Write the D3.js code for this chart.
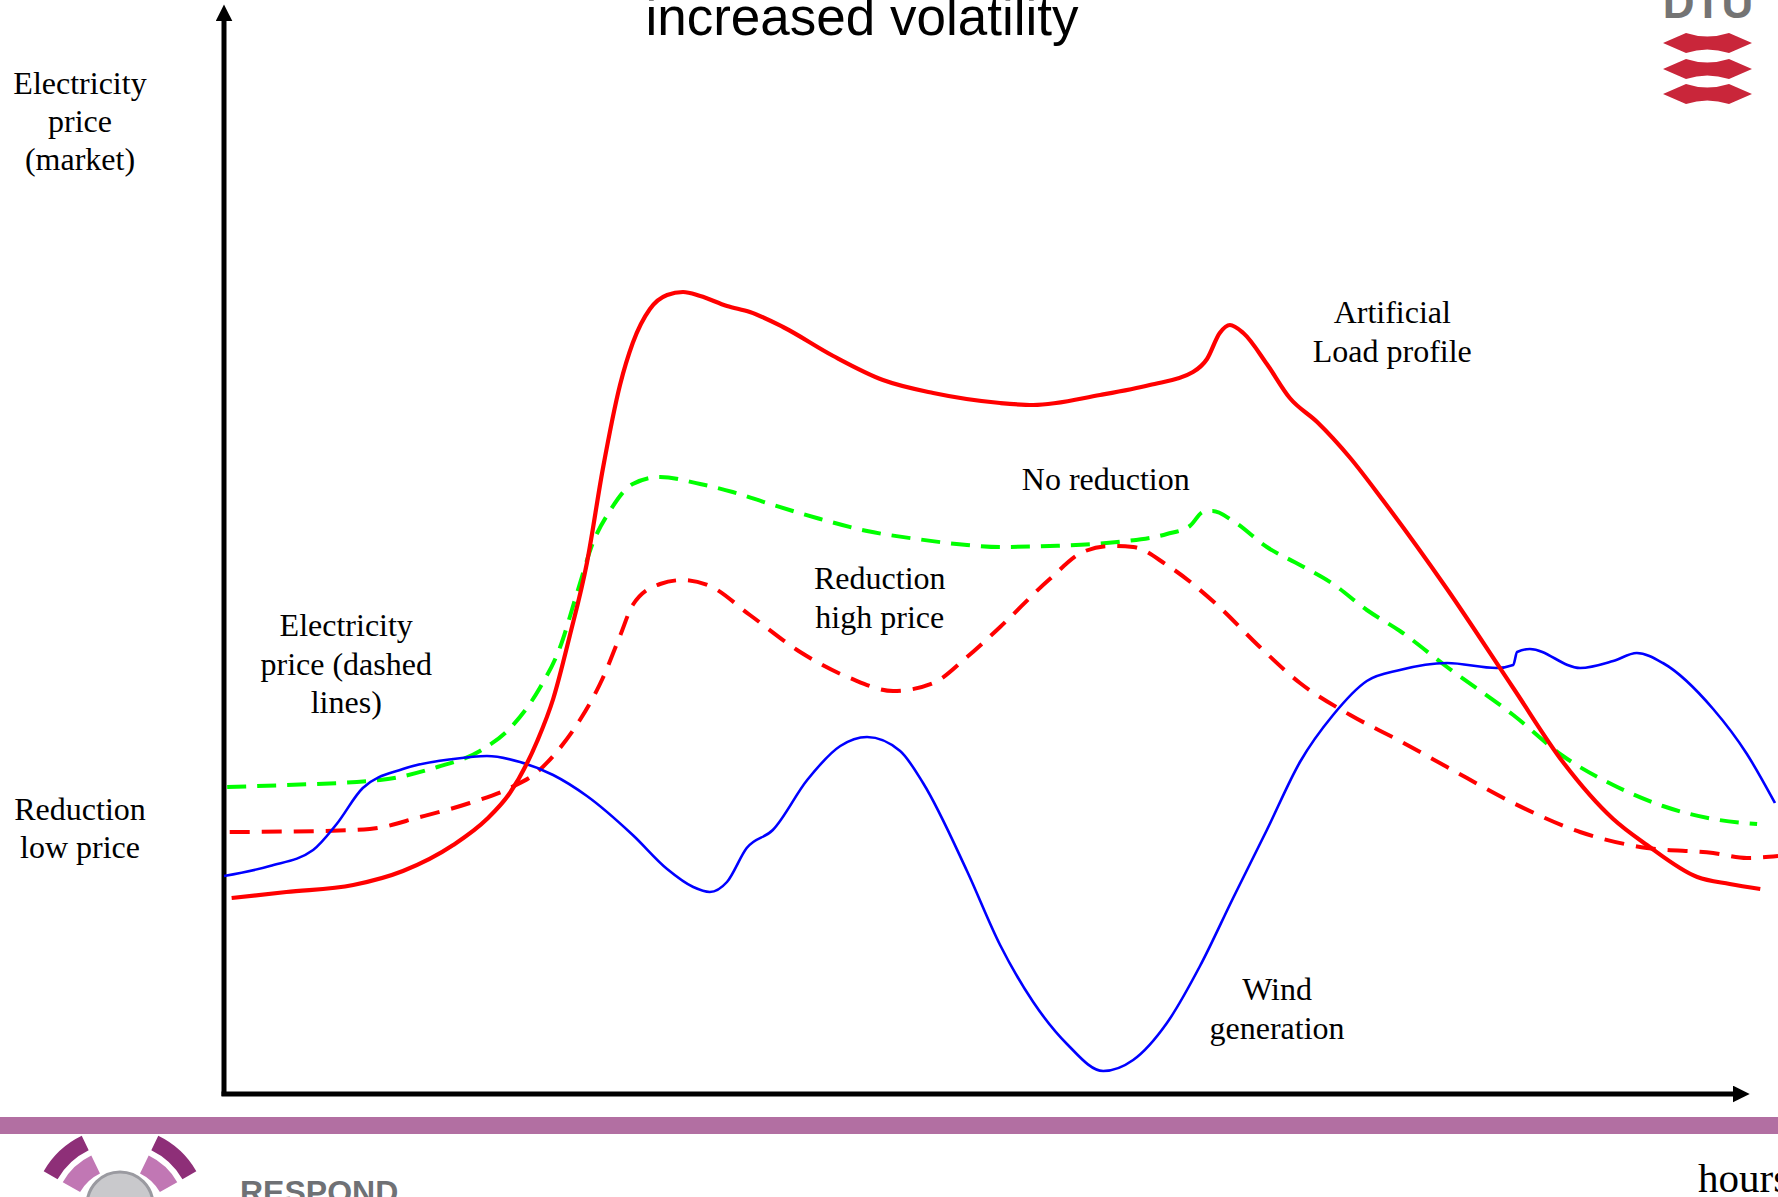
<!DOCTYPE html>
<html>
<head>
<meta charset="utf-8">
<script src="https://cdn.jsdelivr.net/npm/d3@7"></script>
<style>
    body { margin: 0; background: #ffffff; overflow: hidden; }
    svg { display: block; }
</style>
</head>
<body>
<svg id="chart"></svg>
<script>
// --- data: [hour, level] pairs ---
const loadProfile = [
    [0.12, 19.6], [0.98, 20.2], [2.03, 20.9], [2.81, 22.3], [3.60, 24.9], [4.13, 27.5],
    [4.49, 30.1], [4.92, 35.3], [5.17, 39.5], [5.43, 45.8], [5.70, 53.1], [5.95, 62.5],
    [6.22, 70.9], [6.42, 75.1], [6.69, 78.5], [6.96, 79.9], [7.21, 80.2], [7.48, 79.8],
    [7.90, 78.8], [8.26, 78.2], [8.78, 76.7], [9.57, 73.8], [10.35, 71.4], [11.14, 70.1],
    [12.19, 69.1], [12.71, 68.9], [13.76, 69.9], [14.54, 70.9], [15.22, 72.2], [15.44, 73.5],
    [15.64, 76.1], [15.80, 76.9], [16.01, 76.1], [16.38, 73.0], [16.74, 69.6], [17.17, 67.2],
    [17.69, 63.6], [18.20, 59.4], [19.21, 50.5], [20.25, 40.6], [21.03, 33.2], [21.82, 27.5],
    [22.35, 24.9], [23.14, 21.7], [23.65, 21.0], [24.13, 20.5]
];

const priceNoReduction = [
    [0.05, 30.7], [0.99, 30.9], [2.45, 31.4], [3.35, 32.7], [4.02, 34.3], [4.54, 36.9],
    [4.96, 40.6], [5.28, 44.7], [5.54, 50.0], [5.80, 55.2], [6.06, 58.3], [6.42, 61.0],
    [6.85, 61.7], [7.48, 61.0], [7.99, 60.2], [8.53, 59.1], [9.31, 57.6], [10.10, 56.3],
    [10.88, 55.5], [11.67, 54.9], [12.19, 54.7], [12.97, 54.8], [14.03, 55.2], [14.81, 56.0],
    [15.17, 56.8], [15.38, 58.2], [15.53, 58.3], [15.85, 57.3], [16.38, 54.7], [16.90, 52.9],
    [17.42, 51.0], [17.95, 48.4], [18.47, 46.3], [19.21, 42.7], [20.25, 37.9], [21.03, 33.8],
    [21.82, 30.9], [22.60, 28.8], [23.39, 27.5], [24.08, 27.0]
];

const priceReduction = [
    [0.09, 26.2], [1.51, 26.3], [2.29, 26.5], [3.08, 27.7], [3.86, 29.1], [4.49, 30.6],
    [4.92, 32.2], [5.17, 33.8], [5.59, 37.4], [5.95, 41.6], [6.22, 45.8], [6.42, 48.9],
    [6.85, 51.0], [7.21, 51.4], [7.63, 50.8], [8.26, 47.9], [9.05, 44.2], [9.83, 41.6],
    [10.51, 40.3], [11.14, 41.1], [11.67, 43.7], [12.19, 46.7], [12.97, 51.5], [13.49, 54.2],
    [13.92, 54.8], [14.28, 54.7], [14.81, 52.9], [15.60, 48.9], [16.27, 44.7], [16.90, 41.1],
    [17.69, 37.9], [18.47, 35.3], [19.21, 32.7], [20.25, 29.1], [21.30, 26.2], [22.35, 24.6],
    [23.39, 24.1], [23.92, 23.6], [24.41, 23.8]
];

const windGeneration = [
    [0.00, 21.8], [0.72, 22.8], [1.40, 24.4], [1.77, 27.0], [2.18, 30.6], [2.81, 32.5],
    [3.60, 33.5], [4.13, 33.8], [4.65, 33.2], [5.17, 31.9], [5.70, 29.8], [6.42, 25.9],
    [6.96, 22.5], [7.37, 20.7], [7.63, 20.2], [7.90, 21.2], [8.21, 24.6], [8.62, 26.4],
    [9.16, 31.4], [9.68, 34.8], [10.10, 35.7], [10.62, 34.3], [10.98, 31.1], [11.67, 22.3],
    [12.19, 14.9], [12.71, 9.2], [13.24, 5.0], [13.81, 2.3], [14.28, 3.4], [14.81, 7.1],
    [15.33, 12.8], [15.85, 19.6], [16.38, 26.4], [16.90, 33.2], [17.42, 37.9], [17.95, 41.3],
    [18.47, 42.4], [19.21, 43.1], [19.99, 42.6], [20.25, 42.9], [20.31, 44.2], [20.51, 44.5],
    [21.30, 42.6], [21.82, 43.3], [22.19, 44.1], [22.60, 43.1], [23.39, 38.5], [23.92, 34.0],
    [24.36, 29.1]
];

// labels placed in data units [hour, level] (baseline of first line)
const seriesLabels = [
    { lines: ['Electricity', 'price (dashed', 'lines)'], at: [1.92, 45.8] },
    { lines: ['Reduction', 'high price'], at: [10.30, 50.5] },
    { lines: ['No reduction'], at: [13.85, 60.4] },
    { lines: ['Artificial', 'Load profile'], at: [18.35, 77.1] },
    { lines: ['Wind', 'generation'], at: [16.54, 9.4] }
];

function drawChart() {
    const width = 1778;
    const height = 1197;
    const serif = "'Liberation Serif', 'Times New Roman', serif";
    const sans = "'Liberation Sans', Arial, sans-serif";

    const svg = d3.select('#chart')
        .attr('width', width)
        .attr('height', height);

    // scales: hours along x, a unitless level along y
    const x = d3.scaleLinear().domain([0, 24]).range([224, 1752]);
    const y = d3.scaleLinear().domain([0, 100]).range([1094, 94]);

    const defs = svg.append('defs');
    defs.append('marker')
        .attr('id', 'arrow')
        .attr('viewBox', '0 0 10 10')
        .attr('refX', 2)
        .attr('refY', 5)
        .attr('markerWidth', 3.4)
        .attr('markerHeight', 3.4)
        .attr('orient', 'auto')
        .append('path')
        .attr('d', 'M0,0 L10,5 L0,10 Z')
        .attr('fill', '#000');

    // title (cut off at the top like the slide)
    svg.append('text')
        .text('increased volatility')
        .attr('x', 862)
        .attr('y', 35)
        .attr('text-anchor', 'middle')
        .style('font-family', sans)
        .style('font-size', '53px')
        .attr('fill', '#000');

    // axes
    svg.append('line')
        .attr('x1', x(0)).attr('y1', y(0) + 2)
        .attr('x2', x(0)).attr('y2', y(107.6))
        .attr('stroke', '#000')
        .attr('stroke-width', 5)
        .attr('marker-end', 'url(#arrow)');

    svg.append('line')
        .attr('x1', x(0) - 2.5).attr('y1', y(0))
        .attr('x2', x(23.75)).attr('y2', y(0))
        .attr('stroke', '#000')
        .attr('stroke-width', 5)
        .attr('marker-end', 'url(#arrow)');

    const line = d3.line()
        .x(d => x(d[0]))
        .y(d => y(d[1]))
        .curve(d3.curveMonotoneX);

    // dashed price curves
    svg.append('path')
        .datum(priceNoReduction)
        .attr('d', line)
        .attr('fill', 'none')
        .attr('stroke', '#00ff00')
        .attr('stroke-width', 4)
        .attr('stroke-dasharray', '19,11');

    svg.append('path')
        .datum(priceReduction)
        .attr('d', line)
        .attr('fill', 'none')
        .attr('stroke', '#ff0000')
        .attr('stroke-width', 4)
        .attr('stroke-dasharray', '20,12');

    // wind generation
    svg.append('path')
        .datum(windGeneration)
        .attr('d', line)
        .attr('fill', 'none')
        .attr('stroke', '#0000ff')
        .attr('stroke-width', 2.6);

    // load profile
    svg.append('path')
        .datum(loadProfile)
        .attr('d', line)
        .attr('fill', 'none')
        .attr('stroke', '#ff0000')
        .attr('stroke-width', 4.2);

    // labels next to the curves
    seriesLabels.forEach(l => {
        const t = svg.append('text')
            .attr('text-anchor', 'middle')
            .style('font-family', serif)
            .style('font-size', '32px')
            .attr('fill', '#000');
        l.lines.forEach((s, i) => {
            t.append('tspan')
                .attr('x', x(l.at[0]))
                .attr('y', y(l.at[1]) + i * 38.5)
                .text(s);
        });
    });

    // y axis side notes
    const sideNotes = [
        { lines: ['Electricity', 'price', '(market)'], top: 94 },
        { lines: ['Reduction', 'low price'], top: 820 }
    ];
    sideNotes.forEach(n => {
        const t = svg.append('text')
            .attr('text-anchor', 'middle')
            .style('font-family', serif)
            .style('font-size', '32px')
            .attr('fill', '#000');
        n.lines.forEach((s, i) => {
            t.append('tspan')
                .attr('x', 80)
                .attr('y', n.top + i * 38)
                .text(s);
        });
    });

    // x axis note
    svg.append('text')
        .text('hours')
        .attr('x', 1698)
        .attr('y', 1192)
        .style('font-family', serif)
        .style('font-size', '41px')
        .attr('fill', '#000');

    // slide footer band
    svg.append('rect')
        .attr('x', 0).attr('y', 1117)
        .attr('width', width).attr('height', 17)
        .attr('fill', '#b26fa2');

    // DTU logo, top right
    svg.append('text')
        .text('DTU')
        .attr('x', 1708)
        .attr('y', 18)
        .attr('text-anchor', 'middle')
        .style('font-family', sans)
        .style('font-weight', 'bold')
        .style('font-size', '44px')
        .attr('fill', '#747474');

    [43, 69, 94].forEach(cy => {
        svg.append('path')
            .attr('d', `M1663,${cy} L1686,${cy - 10} Q1707,${cy - 3} 1729,${cy - 10} L1752,${cy} L1729,${cy + 10} Q1707,${cy + 3} 1686,${cy + 10} Z`)
            .attr('fill', '#c9263a');
    });

    // RESPOND logo, bottom left
    const logo = svg.append('g');
    logo.append('circle')
        .attr('cx', 120).attr('cy', 1205)
        .attr('r', 33)
        .attr('fill', '#c9c9cc')
        .attr('stroke', '#9a9aa0')
        .attr('stroke-width', 3);
    [[46, 20], [60, 16]].forEach(([r, w], i) => {
        const arc = d3.arc()
            .innerRadius(r + i * 12)
            .outerRadius(r + i * 12 + w);
        logo.append('path')
            .attr('transform', 'translate(120,1215)')
            .attr('d', arc({ startAngle: -1.05, endAngle: -0.45 }))
            .attr('fill', i ? '#8e2f78' : '#c177b4');
        logo.append('path')
            .attr('transform', 'translate(120,1215)')
            .attr('d', arc({ startAngle: 0.45, endAngle: 1.05 }))
            .attr('fill', i ? '#8e2f78' : '#c177b4');
    });

    svg.append('text')
        .text('RESPOND')
        .attr('x', 240)
        .attr('y', 1203)
        .style('font-family', sans)
        .style('font-weight', 'bold')
        .style('font-size', '32px')
        .attr('fill', '#6f7175');
}

window.addEventListener('load', drawChart);
</script>
</body>
</html>
